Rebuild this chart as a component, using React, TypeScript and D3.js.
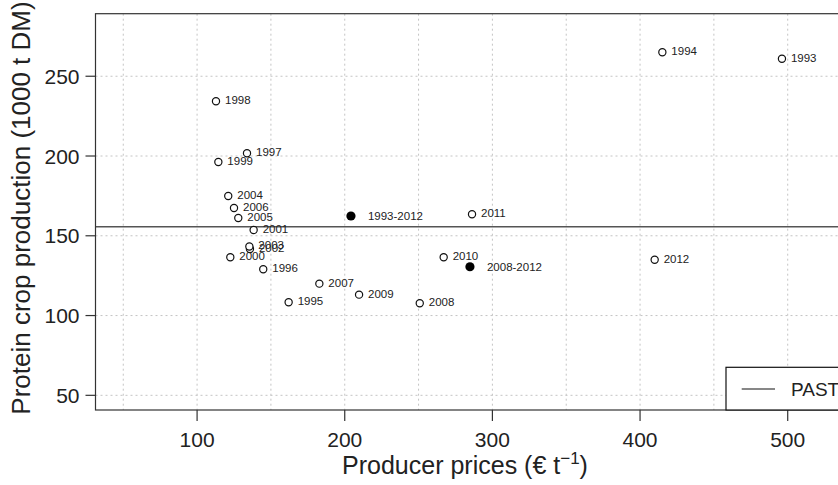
import React from "react";
import * as d3 from "d3";

const years = ["1993","1994","1995","1996","1997","1998","1999","2000","2001","2002","2003","2004","2005","2006","2007","2008","2009","2010","2011","2012"];
const prices = [496.1,415.1,162.0,144.8,133.8,112.8,114.4,122.5,138.3,135.8,135.4,121.1,127.9,125.0,182.8,250.8,209.7,267.0,286.2,409.9];
const production = [261.0,265.0,108.3,129.0,201.7,234.3,196.2,136.5,153.6,141.7,143.3,174.9,161.1,167.4,120.0,107.7,113.1,136.5,163.5,135.0];

const avgLabels = ["1993-2012","2008-2012"];
const avgPrices = [204.2,284.8];
const avgProduction = [162.4,130.6];

const pastLevel = 155.7;
const legendLabels = ["PAST"];

const xTicks = [100,200,300,400,500];
const yTicks = [50,100,150,200,250];
const xGrid = [50,100,150,200,250,300,350,400,450,500];
const yGrid = [50,100,150,200,250];

const xDomain: [number, number] = [31.2, 538.8];
const yDomain: [number, number] = [40.8, 289.2];

const W = 838, H = 485;
const L = 95.5, R = 845, T = 13.7, B = 410;
const FONT = "'Liberation Sans', Arial, Helvetica, sans-serif";

export default function App() {
  const x = d3.scaleLinear().domain(xDomain).range([L, R]);
  const y = d3.scaleLinear().domain(yDomain).range([B, T]);

  return (
    <div style={{ position: "absolute", left: 0, top: 0 }}>
      <svg width={W} height={H} style={{ display: "block", background: "#fff" }} fontFamily={FONT}>
        <defs>
          <clipPath id="plotclip">
            <rect x={L} y={T} width={R - L} height={B - T} />
          </clipPath>
        </defs>
        <g clipPath="url(#plotclip)">
          {xGrid.map((v) => (
            <line key={"gx" + v} x1={x(v)} x2={x(v)} y1={T} y2={B} stroke="#c4c4c4" strokeWidth={1} strokeDasharray="2,3" />
          ))}
          {yGrid.map((v) => (
            <line key={"gy" + v} x1={L} x2={R} y1={y(v)} y2={y(v)} stroke="#c4c4c4" strokeWidth={1} strokeDasharray="2,3" />
          ))}
          <line x1={L} x2={R} y1={y(pastLevel)} y2={y(pastLevel)} stroke="#555" strokeWidth={1.6} />
        </g>
        <rect x={L} y={T} width={R - L} height={B - T} fill="none" stroke="#333" strokeWidth={1.2} />

        {/* y axis */}
        {yTicks.map((v) => (
          <g key={"yt" + v}>
            <line x1={L - 10} x2={L} y1={y(v)} y2={y(v)} stroke="#333" strokeWidth={1.2} />
            <text x={L - 16} y={y(v)} textAnchor="end" dominantBaseline="central" fontSize={21} fill="#222">{v}</text>
          </g>
        ))}
        {/* x axis */}
        {xTicks.map((v) => (
          <g key={"xt" + v}>
            <line x1={x(v)} x2={x(v)} y1={B} y2={B + 11} stroke="#333" strokeWidth={1.2} />
            <text x={x(v)} y={447} textAnchor="middle" fontSize={21} fill="#222">{v}</text>
          </g>
        ))}

        {/* titles */}
        <text x={465} y={474} textAnchor="middle" fontSize={25} fill="#222">
          Producer prices (€ t<tspan dy={-10} fontSize={17}>−1</tspan><tspan dy={10}>)</tspan>
        </text>
        <text transform={`translate(30,208) rotate(-90)`} textAnchor="middle" fontSize={26} fill="#222">
          Protein crop production (1000 t DM)
        </text>

        {/* points */}
        {years.map((yr, i) => (
          <g key={yr}>
            <circle cx={x(prices[i])} cy={y(production[i])} r={3.6} fill="#fff" stroke="#111" strokeWidth={1.2} />
            <text x={x(prices[i]) + 9} y={y(production[i]) - 1} dominantBaseline="central" fontSize={11.5} fill="#222">{yr}</text>
          </g>
        ))}
        {avgLabels.map((lab, i) => (
          <g key={lab}>
            <circle cx={x(avgPrices[i])} cy={y(avgProduction[i])} r={4.6} fill="#000" />
            <text x={x(avgPrices[i]) + 17} y={y(avgProduction[i])} dominantBaseline="central" fontSize={11.5} fill="#222">{lab}</text>
          </g>
        ))}

        {/* legend */}
        <rect x={726} y={367.3} width={R - 726} height={B - 367.3} fill="#fff" stroke="#111" strokeWidth={1.2} />
        <line x1={741.7} x2={775} y1={389} y2={389} stroke="#111" strokeWidth={1.2} />
        <text x={791} y={389} dominantBaseline="central" fontSize={19} fill="#222">{legendLabels[0]}</text>
      </svg>
    </div>
  );
}
